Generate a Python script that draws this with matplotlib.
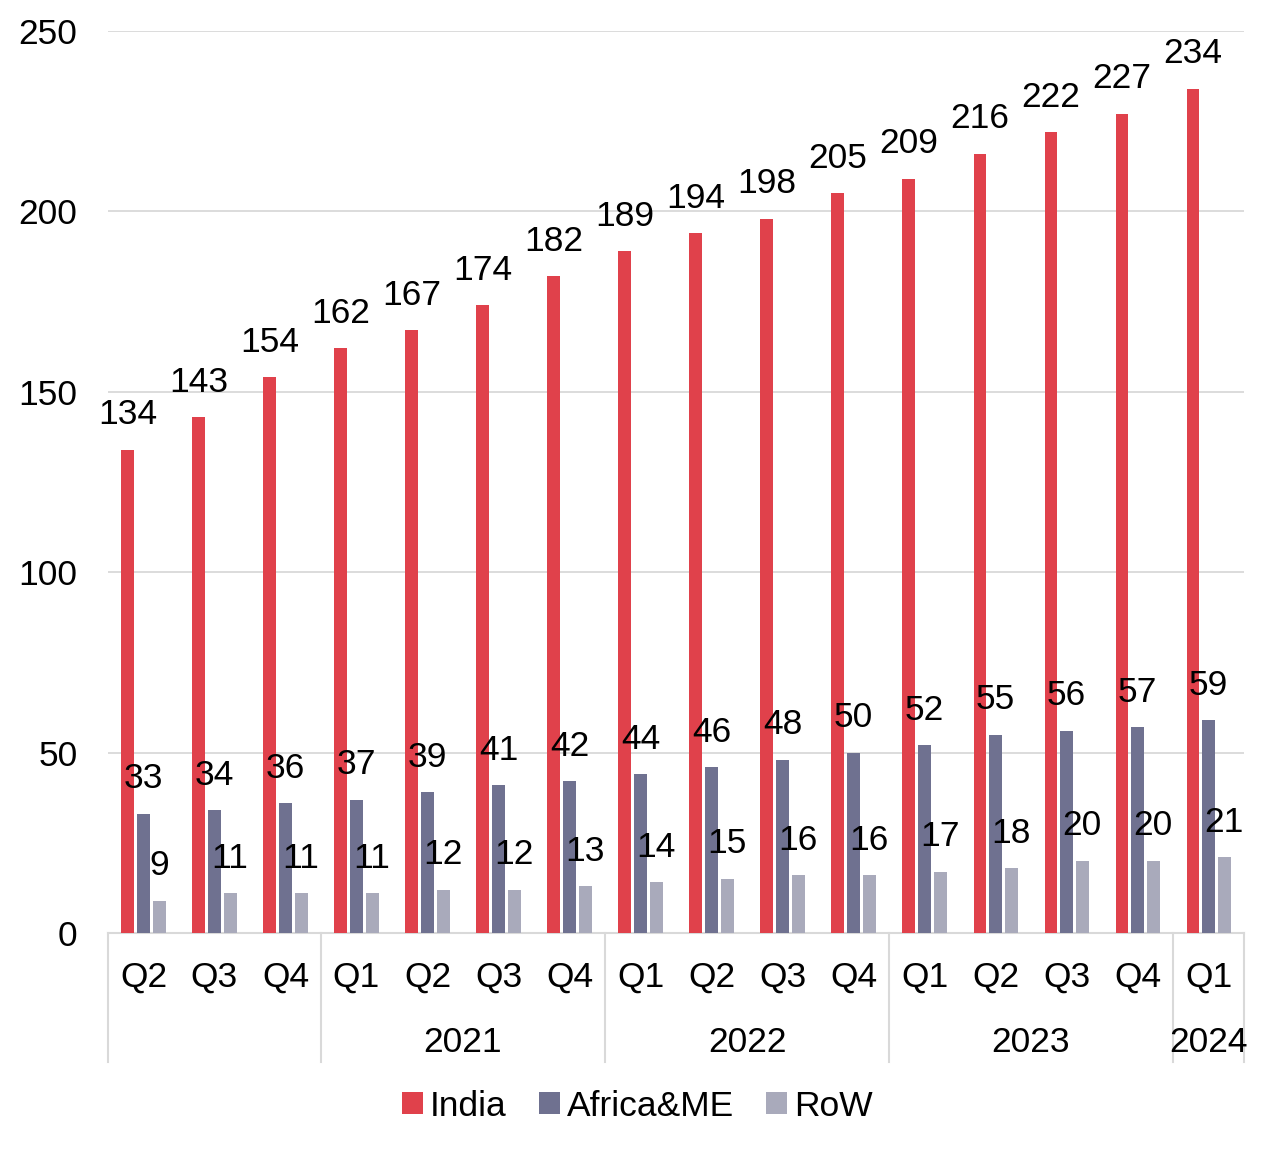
import numpy as np
import matplotlib.pyplot as plt
from matplotlib.patches import Patch
import matplotlib.transforms as mtransforms

plt.rcParams['font.family'] = ['Liberation Sans', 'DejaVu Sans']

# Data
quarters = ['Q2', 'Q3', 'Q4', 'Q1', 'Q2', 'Q3', 'Q4', 'Q1', 'Q2', 'Q3', 'Q4',
            'Q1', 'Q2', 'Q3', 'Q4', 'Q1']
years = ['', '2021', '2022', '2023', '2024']
year_sizes = [3, 4, 4, 4, 1]
india = [134, 143, 154, 162, 167, 174, 182, 189, 194, 198, 205, 209, 216, 222, 227, 234]
africa = [33, 34, 36, 37, 39, 41, 42, 44, 46, 48, 50, 52, 55, 56, 57, 59]
row = [9, 11, 11, 11, 12, 12, 13, 14, 15, 16, 16, 17, 18, 20, 20, 21]

colors = ['#E0414B', '#6F7190', '#A9AABB']
names = ['India', 'Africa&ME', 'RoW']

fs = 25.5

fig = plt.figure(figsize=(12.75, 11.52), dpi=100)
ax = fig.add_axes([0.0847, 0.1901, 0.891, 0.783])

x = np.arange(len(quarters))
width = 0.18
offsets = [-0.22, 0.0, 0.22]

for vals, off, c in zip([india, africa, row], offsets, colors):
    bars = ax.bar(x + off, vals, width, color=c, zorder=3)
    for b, v in zip(bars, vals):
        ax.text(b.get_x() + b.get_width() / 2, v + 9.7, str(v),
                ha='center', va='center', fontsize=fs, color='black', zorder=4)

ax.set_xlim(-0.5, len(quarters) - 0.5)
ax.set_ylim(0, 250)
ax.set_yticks([0, 50, 100, 150, 200, 250])
ax.tick_params(axis='y', length=0, pad=22, labelsize=fs)
ax.set_xticks([])
ax.grid(axis='y', color='#D9D9D9', linewidth=1.3, zorder=0)

for edge in ['left', 'right', 'top']:
    ax.spines[edge].set_visible(False)
ax.spines['bottom'].set_color('#D9D9D9')
ax.spines['bottom'].set_linewidth(1.5)

trans = mtransforms.blended_transform_factory(ax.transData, ax.transAxes)

# Quarter labels
for xi, q in zip(x, quarters):
    ax.text(xi, -0.049, q, transform=trans, ha='center', va='center', fontsize=fs)

# Year labels and separators
start = 0
bounds = [-0.5]
for yr, n in zip(years, year_sizes):
    center = start + (n - 1) / 2
    if yr:
        ax.text(center, -0.121, yr, transform=trans, ha='center', va='center',
                fontsize=fs)
    start += n
    bounds.append(start - 0.5)

for bx in bounds:
    ax.plot([bx, bx], [0, -0.143], transform=trans, color='#D9D9D9',
            linewidth=1.5, clip_on=False)

handles = [Patch(facecolor=c, label=n) for c, n in zip(colors, names)]
fig.legend(handles=handles, loc='center', bbox_to_anchor=(0.5, 1 - 1106 / 1152),
           ncol=3, frameon=False, fontsize=fs, handlelength=0.6, handleheight=0.6,
           handletextpad=0.2, columnspacing=0.9)

fig.savefig('out.png', dpi=100)
